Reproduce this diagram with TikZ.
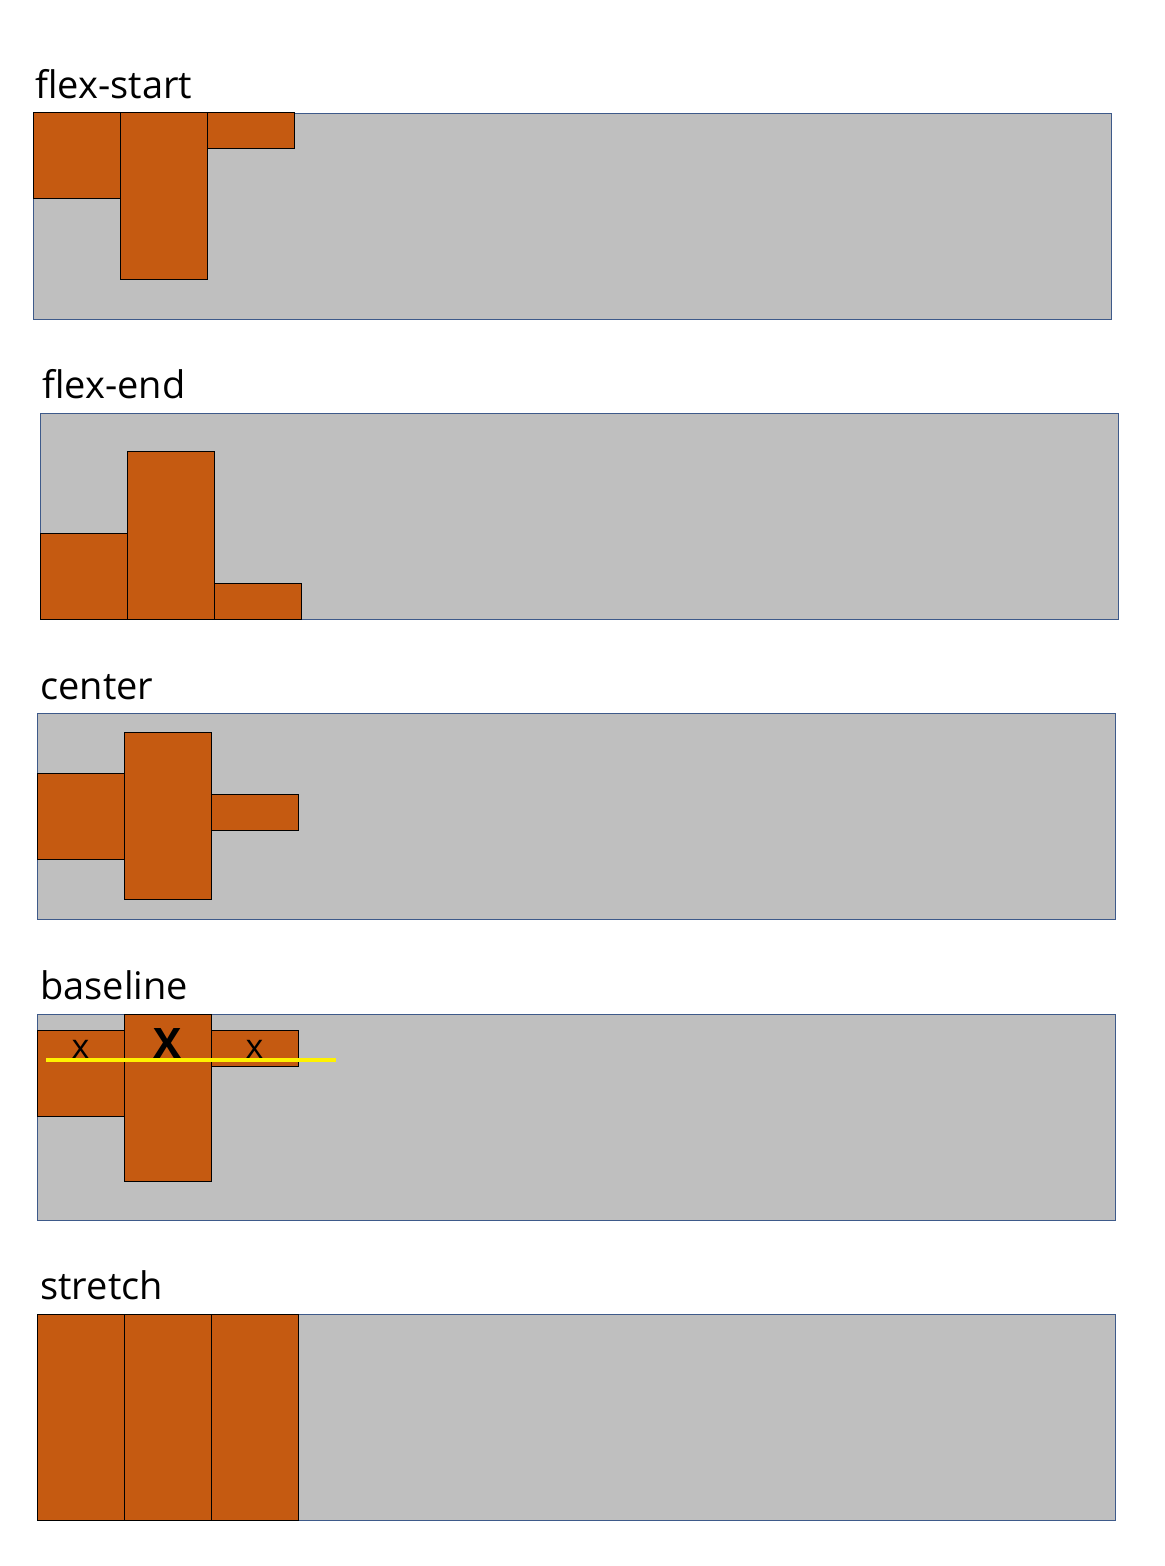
\documentclass[tikz,border=0pt]{standalone}
\usepackage{fontspec}
\setmainfont{Open Sans}
\usetikzlibrary{positioning}
\definecolor{boxorange}{HTML}{C55A11}
\definecolor{panelgray}{HTML}{BFBFBF}
\definecolor{panelline}{HTML}{3E5A8A}
\tikzstyle{panel} = [rectangle, draw=panelline, fill=panelgray, line width=0.45pt, minimum width=539pt, minimum height=103pt, inner sep=0pt, outer sep=0pt, anchor=north west]
\tikzstyle{item} = [rectangle, draw=black, fill=boxorange, line width=0.5pt, minimum width=43.5pt, inner sep=0pt, outer sep=0pt, anchor=north west]
\tikzstyle{title} = [anchor=base west, inner sep=0pt, font=\fontsize{19}{23}\selectfont]
\tikzstyle{glyph} = [anchor=base, inner sep=0pt, font=\fontsize{17}{19}\selectfont]

\begin{document}
\begin{tikzpicture}[x=0.5pt, y=-0.5pt]
  \useasboundingbox (0,0) rectangle (1164,1566);

  % flex-start
  \node (t1) [title] at (35,99) {flex-start};
  \node (p1) [panel] at (33,113) {};
  \node (s1) [item, minimum height=43pt] at (p1.north west) {};
  \node (s2) [item, minimum height=83.5pt] at (s1.north east) {};
  \node (s3) [item, minimum height=18pt] at (s2.north east) {};

  % flex-end
  \node (t2) [title] at (42,399) {flex-end};
  \node (p2) [panel] at (40,413) {};
  \node (e1) [item, minimum height=43pt, anchor=south west] at (p2.south west) {};
  \node (e2) [item, minimum height=83.5pt, anchor=south west] at (e1.south east) {};
  \node (e3) [item, minimum height=18pt, anchor=south west] at (e2.south east) {};

  % center
  \node (t3) [title] at (40,699) {center};
  \node (p3) [panel] at (37,713) {};
  \node (c1) [item, minimum height=43pt, anchor=west] at (p3.west) {};
  \node (c2) [item, minimum height=83.5pt, anchor=west] at (c1.east) {};
  \node (c3) [item, minimum height=18pt, anchor=west] at ([yshift=2pt]c2.east) {};

  % baseline
  \node (t4) [title] at (40,999) {baseline};
  \node (p4) [panel] at (37,1014) {};
  \node (b1) [item, minimum height=43pt] at ([yshift=-8pt]p4.north west) {};
  \node (b2) [item, minimum height=83.5pt] at (b1.north east |- p4.north) {};
  \node (b3) [item, minimum height=18pt] at (b2.north east |- b1.north) {};
  \coordinate (bl) at (46,1060);
  \coordinate (br) at (336,1060);
  \node (x1) [glyph] at ([yshift=1pt]b1.center |- bl) {x};
  \node (x2) [glyph, font=\fontsize{21}{24}\selectfont\bfseries] at ([yshift=1pt]b2.center |- bl) {X};
  \node (x3) [glyph] at ([yshift=1pt]b3.center |- bl) {x};
  \draw [yellow, line width=2pt] (bl) -- (br);

  % stretch
  \node (t5) [title] at (40,1299) {stretch};
  \node (p5) [panel] at (37,1314) {};
  \node (r1) [item, minimum height=103pt] at (p5.north west) {};
  \node (r2) [item, minimum height=103pt] at (r1.north east) {};
  \node (r3) [item, minimum height=103pt] at (r2.north east) {};
\end{tikzpicture}
\end{document}
